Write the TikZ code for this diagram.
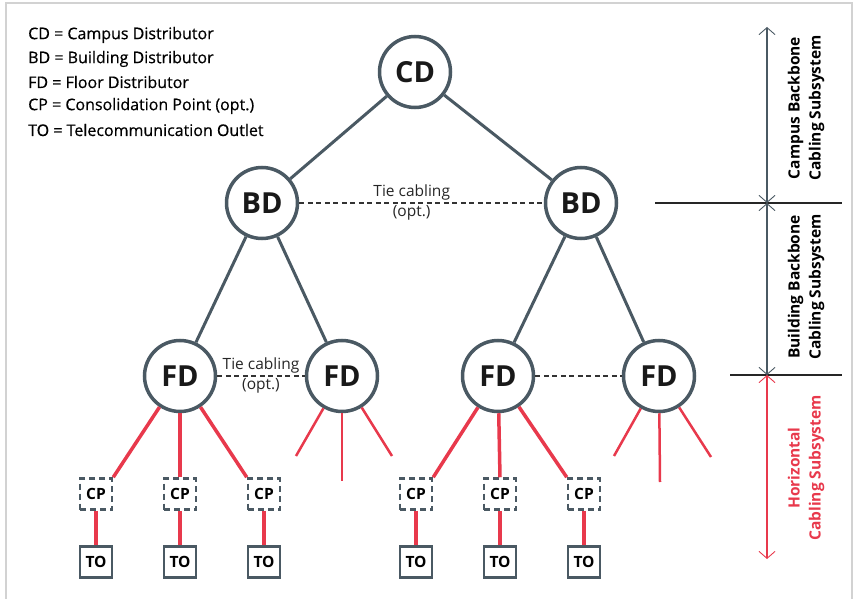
\documentclass[tikz,border=0pt]{standalone}
\usepackage{fontspec}
\setmainfont{Open Sans}
\newfontfamily\medfont[FakeBold=0.5]{Open Sans}
\usepackage{xcolor}
\usetikzlibrary{arrows.meta}

\definecolor{slate}{HTML}{4A5963}
\definecolor{cabred}{HTML}{E8394C}
\definecolor{framegray}{HTML}{D2D2D2}

\tikzset{
  dist/.style={circle, draw=slate, line width=3.5pt, fill=white,
    minimum size=71pt, inner sep=0pt, text=black!90,
    font=\bfseries\fontsize{29}{29}\selectfont},
  cpbox/.style={draw=slate, dashed, dash pattern=on 6pt off 4pt,
    line width=2.5pt, fill=white, minimum width=32pt, minimum height=31pt,
    inner sep=0pt, font=\bfseries\fontsize{15.5}{15.5}\selectfont},
  tobox/.style={cpbox, solid},
  backbone/.style={draw=slate, line width=3pt},
  horiz/.style={draw=cabred, line width=3.5pt},
  tie/.style={draw=black!80, dashed, dash pattern=on 5pt off 3.5pt, line width=1.3pt},
  tietext/.style={font=\fontsize{15.5}{15.5}\selectfont, text=black!85, inner sep=2pt},
  legend/.style={anchor=west, font=\medfont\fontsize{16}{16}\selectfont, inner sep=0pt},
  spanline/.style={line width=1.5pt, {Straight Barb[length=7pt,width=16pt,line width=0.9pt]}-{Straight Barb[length=7pt,width=16pt,line width=0.9pt]}},
  sublabel/.style={rotate=90, align=center, font=\bfseries\fontsize{15.5}{21}\selectfont}
}

\begin{document}
\begin{tikzpicture}[x=1pt, y=-1pt]
\useasboundingbox (0,0) rectangle (857,599);
% frame
\draw[framegray, line width=2pt] (6,599) -- (6,3) -- (852,3) -- (852,599);

% legend
\node[legend] (lcd) at (28,35) {CD = Campus Distributor};
\node[legend] (lbd) at (28,59) {BD = Building Distributor};
\node[legend] (lfd) at (28,82) {FD = Floor Distributor};
\node[legend] (lcp) at (28,106) {CP = Consolidation Point (opt.)};
\node[legend] (lto) at (28,130) {TO = Telecommunication Outlet};

% distributors
\node[dist] (cd) at (415,72) {CD};
\node[dist] (bdl) at (262,203) {BD};
\node[dist] (bdr) at (581,203) {BD};
\node[dist] (fd1) at (180,376) {FD};
\node[dist] (fd2) at (342,376) {FD};
\node[dist] (fd3) at (498,376) {FD};
\node[dist] (fd4) at (659,376) {FD};

% backbone cabling
\draw[backbone] (cd) -- (bdl);
\draw[backbone] (cd) -- (bdr);
\draw[backbone] (bdl) -- (fd1);
\draw[backbone] (bdl) -- (fd2);
\draw[backbone] (bdr) -- (fd3);
\draw[backbone] (bdr) -- (fd4);

% tie cabling
\draw[tie] (bdl) -- node[tietext, above, pos=0.46] (tie1) {Tie cabling}
  node[tietext, below, pos=0.46] (opt1) {(opt.)} (bdr);
\draw[tie] (fd1) -- node[tietext, above] (tie2) {Tie cabling}
  node[tietext, below] (opt2) {(opt.)} (fd2);
\draw[tie] (fd3) -- (fd4);

% consolidation points and outlets
\foreach \n/\x in {1/96, 2/180, 3/264, 4/416, 5/500, 6/584} {
  \node[cpbox] (cp\n) at (\x,494) {CP};
  \node[tobox] (to\n) at (\x,562) {TO};
  \draw[horiz] (cp\n) -- (to\n);
}

% horizontal cabling
\draw[horiz] (fd1) -- (cp1.north east);
\draw[horiz] (fd1) -- (cp2.north);
\draw[horiz] (fd1) -- (cp3.north west);
\draw[horiz] (fd3) -- (cp4.north east);
\draw[horiz] (fd3) -- (cp5.north);
\draw[horiz] (fd3) -- (cp6.north west);

\coordinate (s2a) at (296,456);
\coordinate (s2b) at (342,481);
\coordinate (s2c) at (392,456);
\coordinate (s4a) at (614,456);
\coordinate (s4b) at (660,482);
\coordinate (s4c) at (711,457);
\draw[horiz, line width=2.5pt] (fd2) -- (s2a);
\draw[horiz, line width=2.5pt] (fd2) -- (s2b);
\draw[horiz, line width=2.5pt] (fd2) -- (s2c);
\draw[horiz, line width=2.5pt] (fd4) -- (s4a);
\draw[horiz, line width=2.5pt] (fd4) -- (s4b);
\draw[horiz, line width=2.5pt] (fd4) -- (s4c);

% subsystem scale
\coordinate (ytop) at (767,27);
\coordinate (ybd) at (767,203);
\coordinate (yfd) at (767,375);
\coordinate (ybot) at (767,559);
\draw[black!85, line width=1.3pt] (655,203) -- (842,203);
\draw[black!85, line width=1.3pt] (730,375) -- (842,375);
\draw[spanline, slate] (ytop) -- (ybd);
\draw[spanline, slate] (ybd) -- (yfd);
\draw[spanline, cabred] (yfd) -- (ybot);

\node[sublabel] (campus) at (806,108) {Campus Backbone\\Cabling Subsystem};
\node[sublabel] (building) at (806,287) {Building Backbone\\Cabling Subsystem};
\node[sublabel, text=cabred] (horizontal) at (806,468) {Horizontal\\Cabling Subsystem};

\end{tikzpicture}
\end{document}
